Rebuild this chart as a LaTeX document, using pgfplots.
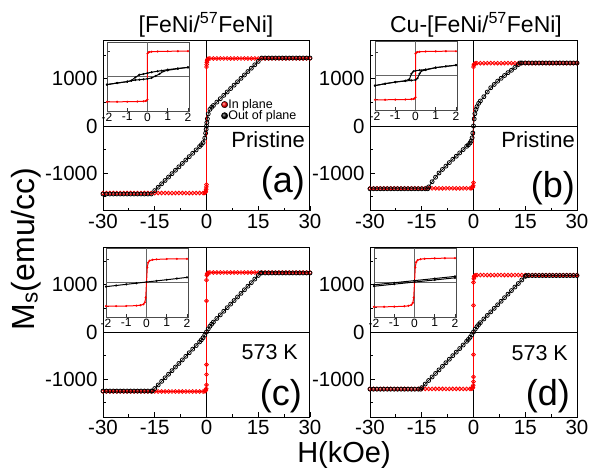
\documentclass[border=0pt]{standalone}
\usepackage{fontspec}
\setmainfont{Liberation Sans}
\usepackage{pgfplots}
\pgfplotsset{compat=1.18}
\pgfplotsset{
  mainax/.style={
    scale only axis, width=207pt, height=170pt, anchor=south west,
    xmin=-30, xmax=30, ymin=-1800, ymax=1800,
    xtick={-30,-15,0,15,30}, minor xtick={-22.5,-7.5,7.5,22.5},
    ytick={-1000,0,1000}, minor ytick={-1500,-500,500,1500},
    tick pos=left, tick align=inside,
    major tick length=5pt, minor tick length=3pt,
    axis line style={line width=1pt},
    every tick/.style={black, line width=0.8pt},
    ticklabel style={font=\fontsize{20.5}{22}\selectfont},
    yticklabel style={xshift=-2pt},
    /pgf/number format/assume math mode=true,
    /pgf/number format/1000 sep={},
  },
  insetax/.style={
    scale only axis, width=82pt, height=69pt, anchor=south west,
    xmin=-2, xmax=2.05,
    xtick={-2,-1,0,1,2}, yticklabels={},
    tick pos=left, tick align=inside, major tick length=3pt,
    axis line style={black!70, line width=0.6pt},
    every tick/.style={black!80, line width=0.5pt},
    xticklabel style={font=\fontsize{12}{13}\selectfont, inner sep=1.5pt},
    /pgf/number format/assume math mode=true,
    axis background/.style={fill=white},
  },
  blk/.style={black, line width=0.7pt, mark=o, mark size=2pt, mark options={line width=0.8pt}},
  rd/.style={red, line width=0.7pt, mark=o, mark size=1.9pt, mark options={line width=0.8pt}},
  iblk/.style={black, line width=1pt, mark=*, mark size=0.5pt},
  ird/.style={red, line width=1pt, mark=*, mark size=0.5pt},
}
\begin{document}
\begin{tikzpicture}
% ---------------- (a) ----------------
\begin{axis}[mainax, at={(103pt,263pt)},
  legend style={at={(0.57,0.66)}, anchor=north west, draw=none, fill=none,
    font=\fontsize{12.5}{12.5}\selectfont, inner sep=0pt, row sep=0pt,
    nodes={inner sep=0.3pt}}, legend cell align=left]
\draw[black, line width=0.6pt] (axis cs:0,-1800) -- (axis cs:0,1800);
\draw[black, line width=0.6pt] (axis cs:-30,0) -- (axis cs:30,0);
\addplot[rd, forget plot] coordinates {(-30,-1420)(-29,-1420)(-28,-1420)(-27,-1420)(-26,-1420)(-25,-1420)(-24,-1420)(-23,-1420)(-22,-1420)(-21,-1420)(-20,-1420)(-19,-1420)(-18,-1420)(-17,-1420)(-16,-1420)(-15,-1420)(-14,-1420)(-13,-1420)(-12,-1420)(-11,-1420)(-10,-1420)(-9,-1420)(-8,-1420)(-7,-1420)(-6,-1420)(-5,-1420)(-4,-1420)(-3,-1420)(-2,-1420)(-1,-1420)(-0.5,-1415)(-0.3,-1400)(-0.2,-1380)(-0.1,-1340)(-0.05,-1290)(0,-1240)(0,1250)(0.05,1300)(0.1,1350)(0.2,1390)(0.3,1410)(0.5,1425)(1,1430)(2,1430)(3,1430)(4,1430)(5,1430)(6,1430)(7,1430)(8,1430)(9,1430)(10,1430)(11,1430)(12,1430)(13,1430)(14,1430)(15,1430)(16,1430)(17,1430)(18,1430)(19,1430)(20,1430)(21,1430)(22,1430)(23,1430)(24,1430)(25,1430)(26,1430)(27,1430)(28,1430)(29,1430)(30,1430)};
\addplot[blk, forget plot] coordinates {(-30,-1440)(-29,-1440)(-28,-1440)(-27,-1440)(-26,-1440)(-25,-1440)(-24,-1440)(-23,-1440)(-22,-1440)(-21,-1440)(-20,-1440)(-19,-1440)(-18,-1440)(-17,-1440)(-16,-1440)(-15,-1368)(-14,-1296)(-13,-1224)(-12,-1153)(-11,-1081)(-10,-1009)(-9,-937)(-8,-865)(-7,-793)(-6,-721)(-5,-649)(-4,-578)(-3,-506)(-2,-434)(-1.5,-397)(-1,-352)(-0.5,-257)(-0.25,-152)(-0.1,-70)(0,0)(0.1,70)(0.25,152)(0.5,257)(1,352)(1.5,397)(2,434)(3,506)(4,578)(5,649)(6,721)(7,793)(8,865)(9,937)(10,1009)(11,1081)(12,1153)(13,1224)(14,1296)(15,1368)(16,1440)(17,1440)(18,1440)(19,1440)(20,1440)(21,1440)(22,1440)(23,1440)(24,1440)(25,1440)(26,1440)(27,1440)(28,1440)(29,1440)(30,1440)};
\addlegendimage{only marks, mark=ball, ball color=red, mark size=3.2pt}
\addlegendentry{In plane}
\addlegendimage{only marks, mark=ball, ball color=black, mark size=3.2pt}
\addlegendentry{Out of plane}
\end{axis}
\begin{axis}[insetax, at={(107pt,363pt)}, ymin=-1950, ymax=1950, ytick={-1400,0,1400}]
\draw[black!60, line width=0.5pt] (axis cs:0,-1950) -- (axis cs:0,1950);
\draw[black!60, line width=0.5pt] (axis cs:-2,0) -- (axis cs:2.05,0);
\addplot[ird] coordinates {(-2,-1430)(-1.5,-1430)(-1,-1425)(-0.5,-1415)(-0.2,-1400)(-0.1,-1385)(-0.05,-1360)(0,-1300)(0,1300)(0.05,1360)(0.1,1385)(0.2,1400)(0.5,1415)(1,1425)(1.5,1430)(2,1430)};
\addplot[iblk] coordinates {(2,517)(1.5,455)(1,390)(0.7,330)(0.5,300)(0.2,240)(0,190)(-0.2,140)(-0.4,100)(-0.6,-50)(-0.8,-230)(-1,-290)(-1.5,-370)(-2,-456)};
\addplot[iblk] coordinates {(-2,-456)(-1.5,-370)(-1,-290)(-0.8,-240)(-0.6,-200)(-0.4,-180)(-0.2,-160)(0,-130)(0.2,-80)(0.4,30)(0.6,150)(0.8,300)(1,350)(1.5,440)(2,517)};
\end{axis}
% ---------------- (b) ----------------
\begin{axis}[mainax, at={(370pt,263pt)}]
\draw[black, line width=0.6pt] (axis cs:0,-1800) -- (axis cs:0,1800);
\draw[black, line width=0.6pt] (axis cs:-30,0) -- (axis cs:30,0);
\addplot[rd] coordinates {(-30,-1320)(-29,-1320)(-28,-1320)(-27,-1320)(-26,-1320)(-25,-1320)(-24,-1320)(-23,-1320)(-22,-1320)(-21,-1320)(-20,-1320)(-19,-1320)(-18,-1320)(-17,-1320)(-16,-1320)(-15,-1320)(-14,-1320)(-13,-1320)(-12,-1320)(-11,-1320)(-10,-1320)(-9,-1320)(-8,-1320)(-7,-1320)(-6,-1320)(-5,-1320)(-4,-1320)(-3,-1320)(-2,-1320)(-1,-1320)(-0.5,-1315)(-0.2,-1295)(-0.1,-1265)(0,-1200)(0,1250)(0.1,1290)(0.2,1310)(0.5,1325)(1,1330)(2,1330)(3,1330)(4,1330)(5,1330)(6,1330)(7,1330)(8,1330)(9,1330)(10,1330)(11,1330)(12,1330)(13,1330)(14,1330)(15,1330)(16,1330)(17,1330)(18,1330)(19,1330)(20,1330)(21,1330)(22,1330)(23,1330)(24,1330)(25,1330)(26,1330)(27,1330)(28,1330)(29,1330)(30,1330)};
\addplot[blk] coordinates {(-30,-1330)(-29,-1330)(-28,-1330)(-27,-1330)(-26,-1330)(-25,-1330)(-24,-1330)(-23,-1330)(-22,-1330)(-21,-1330)(-20,-1330)(-19,-1330)(-18,-1330)(-17,-1330)(-16,-1330)(-15,-1330)(-14,-1330)(-13.3,-1330)(-13,-1290)(-12,-1180)(-11,-1085)(-10,-995)(-9,-920)(-8,-850)(-7,-775)(-6,-705)(-5,-640)(-4,-570)(-3,-500)(-2,-430)(-1.5,-400)(-1,-360)(-0.7,-320)(-0.4,-250)(-0.2,-150)(0,0)(0.2,150)(0.4,260)(0.7,350)(1,410)(1.5,480)(2,530)(3,620)(4,720)(5,810)(6,880)(7,950)(8,1010)(9,1070)(10,1130)(11,1180)(12,1240)(13,1300)(13.5,1335)(14,1335)(15,1335)(16,1335)(17,1335)(18,1335)(19,1335)(20,1335)(21,1335)(22,1335)(23,1335)(24,1335)(25,1335)(26,1335)(27,1335)(28,1335)(29,1335)(30,1335)};
\end{axis}
\begin{axis}[insetax, at={(375pt,364pt)}, ymin=-1890, ymax=1890, ytick={-1300,0,1300}]
\draw[black!60, line width=0.5pt] (axis cs:0,-1890) -- (axis cs:0,1890);
\draw[black!60, line width=0.5pt] (axis cs:-2,0) -- (axis cs:2.05,0);
\addplot[ird] coordinates {(-2,-1330)(-1.5,-1330)(-1,-1325)(-0.5,-1315)(-0.2,-1300)(-0.1,-1285)(-0.05,-1260)(0,-1200)(0,1200)(0.05,1260)(0.1,1285)(0.2,1300)(0.5,1315)(1,1325)(1.5,1330)(2,1330)};
\addplot[iblk] coordinates {(2,564)(1.5,500)(1,430)(0.5,330)(0.2,290)(0,260)(-0.1,230)(-0.2,100)(-0.3,-200)(-0.5,-290)(-1,-360)(-1.5,-450)(-2,-553)};
\addplot[iblk] coordinates {(-2,-553)(-1.5,-450)(-1,-360)(-0.5,-300)(-0.2,-270)(0,-240)(0.1,-150)(0.2,100)(0.3,250)(0.5,300)(1,430)(1.5,500)(2,564)};
\end{axis}
% ---------------- (c) ----------------
\begin{axis}[mainax, at={(103pt,57pt)}]
\draw[black, line width=0.6pt] (axis cs:0,-1800) -- (axis cs:0,1800);
\draw[black, line width=0.6pt] (axis cs:-30,0) -- (axis cs:30,0);
\addplot[rd] coordinates {(-30,-1260)(-29,-1260)(-28,-1260)(-27,-1260)(-26,-1260)(-25,-1260)(-24,-1260)(-23,-1260)(-22,-1260)(-21,-1260)(-20,-1260)(-19,-1260)(-18,-1260)(-17,-1260)(-16,-1260)(-15,-1260)(-14,-1260)(-13,-1260)(-12,-1260)(-11,-1260)(-10,-1260)(-9,-1260)(-8,-1260)(-7,-1260)(-6,-1260)(-5,-1260)(-4,-1260)(-3,-1260)(-2,-1260)(-1,-1260)(-0.5,-1255)(-0.3,-1245)(-0.2,-1230)(-0.1,-1200)(0,-1120)(0,-900)(0,-690)(0,660)(0,1100)(0.1,1200)(0.2,1230)(0.3,1245)(0.5,1255)(1,1260)(2,1260)(3,1260)(4,1260)(5,1260)(6,1260)(7,1260)(8,1260)(9,1260)(10,1260)(11,1260)(12,1260)(13,1260)(14,1260)(15,1260)(16,1260)(17,1260)(18,1260)(19,1260)(20,1260)(21,1260)(22,1260)(23,1260)(24,1260)(25,1260)(26,1260)(27,1260)(28,1260)(29,1260)(30,1260)};
\addplot[blk] coordinates {(-30,-1250)(-29,-1250)(-28,-1250)(-27,-1250)(-26,-1250)(-25,-1250)(-24,-1250)(-23,-1250)(-22,-1250)(-21,-1250)(-20,-1250)(-19,-1250)(-18,-1250)(-17,-1250)(-16,-1250)(-15.7,-1250)(-15,-1197)(-14,-1121)(-13,-1045)(-12,-970)(-11,-894)(-10,-818)(-9,-742)(-8,-666)(-7,-591)(-6,-515)(-5,-439)(-4,-363)(-3,-287)(-2,-210)(-1.5,-168)(-1,-122)(-0.5,-66)(0,0)(0.5,66)(1,122)(1.5,168)(2,210)(3,287)(4,363)(5,439)(6,515)(7,591)(8,666)(9,742)(10,818)(11,894)(12,970)(13,1045)(14,1121)(15,1197)(15.7,1250)(16,1250)(17,1250)(18,1250)(19,1250)(20,1250)(21,1250)(22,1250)(23,1250)(24,1250)(25,1250)(26,1250)(27,1250)(28,1250)(29,1250)(30,1250)};
\end{axis}
\begin{axis}[insetax, at={(106pt,157pt)}, ymin=-1820, ymax=1820, ytick={-1250,0,1250}]
\draw[black!60, line width=0.5pt] (axis cs:0,-1820) -- (axis cs:0,1820);
\draw[black!60, line width=0.5pt] (axis cs:-2,0) -- (axis cs:2.05,0);
\addplot[ird] coordinates {(-2,-1250)(-1.5,-1248)(-1,-1240)(-0.5,-1220)(-0.3,-1200)(-0.15,-1150)(-0.08,-1050)(-0.04,-800)(0,0)(0.04,800)(0.08,1050)(0.15,1150)(0.3,1200)(0.5,1220)(1,1240)(1.5,1248)(2,1250)};
\addplot[iblk] coordinates {(-2,-219)(-1.5,-158)(-1,-97)(-0.5,-36)(0,25)(0.5,86)(1,147)(1.5,208)(2,269)};
\end{axis}
% ---------------- (d) ----------------
\begin{axis}[mainax, at={(370pt,57pt)}]
\draw[black, line width=0.6pt] (axis cs:0,-1800) -- (axis cs:0,1800);
\draw[black, line width=0.6pt] (axis cs:-30,0) -- (axis cs:30,0);
\addplot[rd] coordinates {(-30,-1205)(-29,-1205)(-28,-1205)(-27,-1205)(-26,-1205)(-25,-1205)(-24,-1205)(-23,-1205)(-22,-1205)(-21,-1205)(-20,-1205)(-19,-1205)(-18,-1205)(-17,-1205)(-16,-1205)(-15,-1205)(-14,-1205)(-13,-1205)(-12,-1205)(-11,-1205)(-10,-1205)(-9,-1205)(-8,-1205)(-7,-1205)(-6,-1205)(-5,-1205)(-4,-1205)(-3,-1205)(-2,-1205)(-1,-1205)(-0.5,-1200)(-0.3,-1190)(-0.2,-1170)(-0.1,-1130)(0,-1050)(0,-950)(0,-480)(0,565)(0,1050)(0.1,1130)(0.2,1170)(0.3,1190)(0.5,1200)(1,1205)(2,1205)(3,1205)(4,1205)(5,1205)(6,1205)(7,1205)(8,1205)(9,1205)(10,1205)(11,1205)(12,1205)(13,1205)(14,1205)(15,1205)(16,1205)(17,1205)(18,1205)(19,1205)(20,1205)(21,1205)(22,1205)(23,1205)(24,1205)(25,1205)(26,1205)(27,1205)(28,1205)(29,1205)(30,1205)};
\addplot[blk] coordinates {(-30,-1210)(-29,-1210)(-28,-1210)(-27,-1210)(-26,-1210)(-25,-1210)(-24,-1210)(-23,-1210)(-22,-1210)(-21,-1210)(-20,-1210)(-19,-1210)(-18,-1210)(-17,-1210)(-16,-1210)(-15.3,-1210)(-15,-1178)(-14,-1102)(-13,-1027)(-12,-952)(-11,-877)(-10,-802)(-9,-727)(-8,-651)(-7,-576)(-6,-501)(-5,-426)(-4,-351)(-3,-276)(-2,-198)(-1.5,-158)(-1,-113)(-0.5,-61)(0,0)(0.5,61)(1,113)(1.5,158)(2,198)(3,276)(4,351)(5,426)(6,501)(7,576)(8,651)(9,727)(10,802)(11,877)(12,952)(13,1027)(14,1102)(15,1178)(15.3,1195)(16,1195)(17,1195)(18,1195)(19,1195)(20,1195)(21,1195)(22,1195)(23,1195)(24,1195)(25,1195)(26,1195)(27,1195)(28,1195)(29,1195)(30,1195)};
\end{axis}
\begin{axis}[insetax, at={(374pt,157pt)}, ymin=-1700, ymax=1700, ytick={-1200,0,1200}]
\draw[black!60, line width=0.5pt] (axis cs:0,-1700) -- (axis cs:0,1700);
\draw[black!60, line width=0.5pt] (axis cs:-2,0) -- (axis cs:2.05,0);
\addplot[ird] coordinates {(-2,-1200)(-1.5,-1198)(-1,-1190)(-0.5,-1170)(-0.3,-1150)(-0.15,-1100)(-0.08,-1000)(-0.04,-750)(0,0)(0.04,750)(0.08,1000)(0.15,1100)(0.3,1150)(0.5,1170)(1,1190)(1.5,1198)(2,1200)};
\addplot[iblk] coordinates {(-2,-115)(-1,-11)(0,92)(1,196)(2,300)};
\addplot[iblk] coordinates {(-2,-185)(-1,-81)(0,22)(1,126)(2,230)};
\end{axis}
% ---------------- texts ----------------
\node[anchor=base, inner sep=0] at (206pt,441pt) {\fontsize{23}{25}\selectfont [FeNi/\textsuperscript{57}FeNi]};
\node[anchor=base, inner sep=0] at (476pt,441pt) {\fontsize{23}{25}\selectfont Cu-[FeNi/\textsuperscript{57}FeNi]};
\node[anchor=base east, inner sep=0] at (305pt,326pt) {\fontsize{22}{24}\selectfont Pristine};
\node[anchor=base east, inner sep=0] at (575pt,326pt) {\fontsize{22}{24}\selectfont Pristine};
\node[anchor=base east, inner sep=0] at (298pt,115pt) {\fontsize{21.5}{24}\selectfont 573 K};
\node[anchor=base east, inner sep=0] at (568pt,114pt) {\fontsize{21.5}{24}\selectfont 573 K};
\node[anchor=base east, inner sep=0] at (305pt,281pt) {\fontsize{36}{38}\selectfont (a)};
\node[anchor=base east, inner sep=0] at (575pt,276pt) {\fontsize{36}{38}\selectfont (b)};
\node[anchor=base east, inner sep=0] at (302pt,69pt) {\fontsize{36}{38}\selectfont (c)};
\node[anchor=base east, inner sep=0] at (570pt,69pt) {\fontsize{36}{38}\selectfont (d)};
\node[anchor=base, inner sep=0] at (344pt,12pt) {\fontsize{29}{31}\selectfont H(kOe)};
\node[anchor=base, inner sep=0, rotate=90] at (34pt,225pt) {\fontsize{32}{34}\selectfont M\textsubscript{s}(emu/cc)};
\pgfresetboundingbox
\path (0,0) rectangle (601pt,474pt);
\end{tikzpicture}
\end{document}
